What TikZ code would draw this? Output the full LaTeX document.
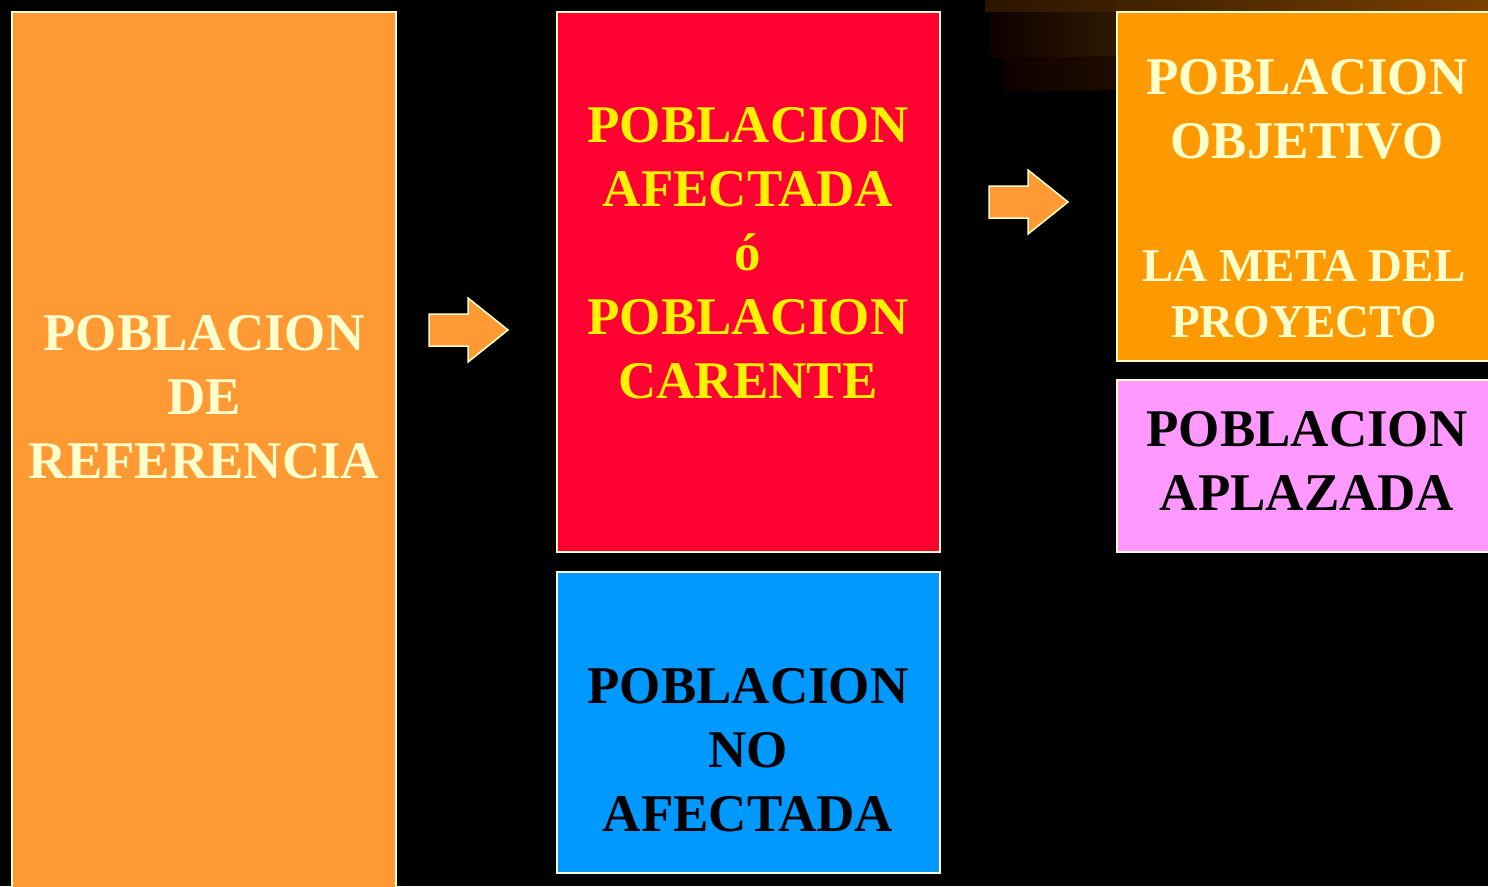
\documentclass[tikz,border=0pt]{standalone}
\usepackage{fontspec}
\setmainfont{Liberation Serif}
\begin{document}
\begin{tikzpicture}[x=1pt,y=-1pt,
  box/.style={draw=bordercol,line width=2pt},
  lbl/.style={inner sep=0pt,align=center,font=\bfseries\fontsize{53}{64}\selectfont},
  lblsm/.style={inner sep=0pt,align=center,font=\bfseries\fontsize{47}{56}\selectfont},
  arrowshape/.style={fill=arrowfill,draw=bordercol,line width=1.5pt,line join=miter}]
\definecolor{bordercol}{HTML}{FFFFCC}
\definecolor{lightyellow}{HTML}{FFFFCC}
\definecolor{reforange}{HTML}{FF9933}
\definecolor{afred}{HTML}{FF0033}
\definecolor{noblue}{HTML}{0099FF}
\definecolor{objorange}{HTML}{FF9900}
\definecolor{aplpink}{HTML}{FF99FF}
\definecolor{arrowfill}{HTML}{FF9933}
\definecolor{glowA}{HTML}{2A1500}
\definecolor{glowB}{HTML}{7A4000}
\definecolor{glowC}{HTML}{100000}
\definecolor{glowD}{HTML}{2E1A00}
\useasboundingbox (0,0) rectangle (1488,886);
\fill[black] (0,0) rectangle (1488,886);
% background glow
\shade[left color=glowC,right color=glowD] (990,10) -- (1120,8) -- (1120,58) -- (990,58) -- cycle;
\shade[left color=glowC,right color=glowC!50!glowD] (1005,58) -- (1120,56) -- (1120,90) -- (1005,92) -- cycle;
\shade[left color=glowA,right color=glowB] (985,0) rectangle (1488,11);
% boxes
\draw[box,fill=reforange] (12,12) rectangle (396,892);
\draw[box,fill=afred] (557,12) rectangle (940,552);
\draw[box,fill=noblue] (557,572) rectangle (940,873);
\draw[box,fill=objorange] (1117,12) rectangle (1495,361);
\draw[box,fill=aplpink] (1117,380) rectangle (1495,552);
% labels
\node[lbl,text=lightyellow] (ref) at (204,397) {POBLACION\\DE\\REFERENCIA};
\node[lbl,text=yellow] (afe) at (748,253) {POBLACION\\AFECTADA\\ó\\POBLACION\\CARENTE};
\node[lbl,text=black] (noafe) at (748,750) {POBLACION\\NO\\AFECTADA};
\node[lbl,text=lightyellow] (obj) at (1307,109) {POBLACION\\OBJETIVO};
\node[lblsm,text=lightyellow] (meta) at (1304,294) {LA META DEL\\PROYECTO};
\node[lbl,text=black] (apl) at (1307,461) {POBLACION\\APLAZADA};
% arrows
\draw[arrowshape] (429,314) -- (468,314) -- (468,298) -- (508,330) -- (468,362) -- (468,346) -- (429,346) -- cycle;
\draw[arrowshape] (989,186) -- (1028,186) -- (1028,170) -- (1068,202) -- (1028,234) -- (1028,218) -- (989,218) -- cycle;
\end{tikzpicture}
\end{document}
